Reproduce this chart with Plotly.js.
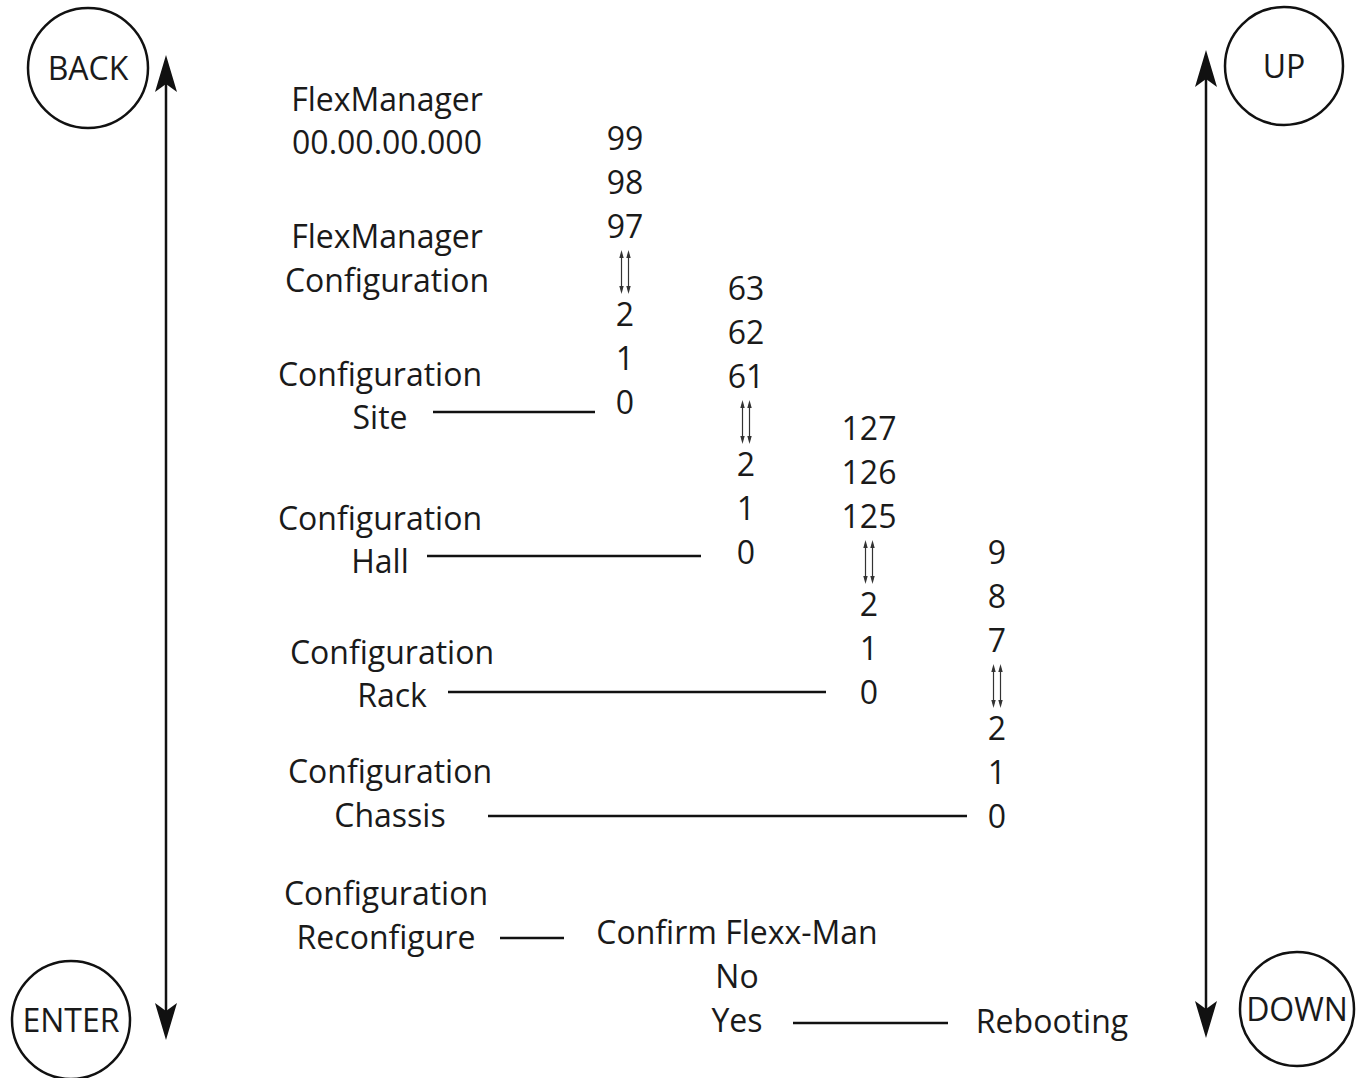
<!DOCTYPE html>
<html>
<head>
<meta charset="utf-8">
<script src="https://cdn.plot.ly/plotly-3.0.1.min.js"></script>
<style>html,body{margin:0;padding:0;background:#fff;}#chart{width:1368px;height:1078px;}</style>
</head>
<body>
<div id="chart"></div>
<script>
// ---- data ----
const menuLabels = ["FlexManager","00.00.00.000","FlexManager","Configuration","Configuration","Site",
  "Configuration","Hall","Configuration","Rack","Configuration","Chassis","Configuration","Reconfigure",
  "Confirm Flexx-Man","No","Yes","Rebooting"];
const menuX = [387,387,387,387,380,380,380,380,392,392,390,390,386,386,737,737,737,1052];
const menuY = [99,142,236,280,374,417,518,561,652,695,771,815,893,937,932,976,1020,1021];

const siteValues = ["99","98","97","2","1","0"];
const hallValues = ["63","62","61","2","1","0"];
const rackValues = ["127","126","125","2","1","0"];
const chassisValues = ["9","8","7","2","1","0"];
const columnValues = [siteValues, hallValues, rackValues, chassisValues];
const columnX = [625, 746, 869, 997];
const columnTop = [138, 288, 428, 552];

const buttonLabels = ["BACK","ENTER","UP","DOWN"];
const buttonX = [88, 71, 1284, 1297];
const buttonY = [68, 1020, 66, 1009];
const buttonR = [60, 59, 59, 57];

// connectors: [x0, x1, y]
const connX0 = [433, 427, 448, 488, 500, 793];
const connX1 = [595, 701, 826, 967, 564, 948];
const connY  = [412, 556, 692, 816, 938, 1023];

// ---- build ----
const TEXT_DY = 4;
const tx = [], ty = [], tt = [];
menuLabels.forEach((l,i)=>{tx.push(menuX[i]); ty.push(menuY[i]+TEXT_DY); tt.push(l);});
const shapes = [];
const STEP = 44;
columnValues.forEach((vals,c)=>{
  vals.forEach((v,i)=>{
    const y = columnTop[c] + i*STEP + (i>=3 ? STEP : 0);
    tx.push(columnX[c]); ty.push(y+TEXT_DY); tt.push(v);
  });
  // small double arrow between 3rd and 4th values
  const yTop = columnTop[c] + 2*STEP + 24;
  const yBot = yTop + 44;
  [-3.5, 3.5].forEach(dx=>{
    const x = columnX[c] + dx;
    shapes.push({type:'line', xref:'x', yref:'y', x0:x, x1:x, y0:yTop+4, y1:yBot-4, line:{color:'#333', width:1.2}});
    shapes.push({type:'path', xref:'x', yref:'y', path:`M${x},${yTop} L${x-2.2},${yTop+8} L${x+2.2},${yTop+8} Z`, fillcolor:'#333', line:{width:0}});
    shapes.push({type:'path', xref:'x', yref:'y', path:`M${x},${yBot} L${x-2.2},${yBot-8} L${x+2.2},${yBot-8} Z`, fillcolor:'#333', line:{width:0}});
  });
});
buttonLabels.forEach((l,i)=>{tx.push(buttonX[i]); ty.push(buttonY[i]+TEXT_DY); tt.push(l);});

buttonX.forEach((x,i)=>{
  shapes.push({type:'circle', xref:'x', yref:'y', x0:x-buttonR[i], x1:x+buttonR[i], y0:buttonY[i]-buttonR[i], y1:buttonY[i]+buttonR[i], line:{color:'#111', width:2.5}});
});
connX0.forEach((x,i)=>{
  shapes.push({type:'line', xref:'x', yref:'y', x0:x, x1:connX1[i], y0:connY[i], y1:connY[i], line:{color:'#111', width:2.5}});
});
// big vertical arrows
function bigArrow(x, yTop, yBot){
  shapes.push({type:'line', xref:'x', yref:'y', x0:x, x1:x, y0:yTop+20, y1:yBot-20, line:{color:'#111', width:2.5}});
  shapes.push({type:'path', xref:'x', yref:'y', path:`M${x},${yTop} L${x-11},${yTop+37} L${x},${yTop+29} L${x+11},${yTop+37} Z`, fillcolor:'#111', line:{width:0}});
  shapes.push({type:'path', xref:'x', yref:'y', path:`M${x},${yBot} L${x-11},${yBot-37} L${x},${yBot-29} L${x+11},${yBot-37} Z`, fillcolor:'#111', line:{width:0}});
}
bigArrow(166, 55, 1040);
bigArrow(1206, 50, 1038);

const trace = {x:tx, y:ty, text:tt, mode:'text', type:'scatter', textposition:'middle center',
  textfont:{family:'Open Sans, sans-serif', size:32, color:'#1a1a1a'}, hoverinfo:'none', showlegend:false};

const layout = {
  width:1368, height:1078, margin:{l:0,r:0,t:0,b:0},
  paper_bgcolor:'#ffffff', plot_bgcolor:'#ffffff',
  xaxis:{range:[0,1368], visible:false, fixedrange:true},
  yaxis:{range:[1078,0], visible:false, fixedrange:true},
  shapes:shapes, showlegend:false
};
Plotly.newPlot('chart', [trace], layout, {staticPlot:true});
</script>
</body>
</html>
